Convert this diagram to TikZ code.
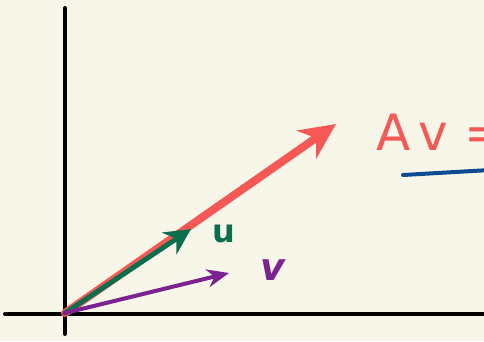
\documentclass[tikz,border=0pt]{standalone}
\usepackage{fontspec}
\setmainfont{DejaVu Sans}
\usepackage{xcolor}
\definecolor{paper}{HTML}{F8F5E9}
\definecolor{redvec}{HTML}{F65855}
\definecolor{greenvec}{HTML}{0B6E4F}
\definecolor{purplevec}{HTML}{7B2390}
\definecolor{bluestroke}{HTML}{0D4C92}
\usetikzlibrary{arrows.meta,positioning,calc}

\begin{document}
\begin{tikzpicture}[
  x=1pt, y=-1pt,
  axis/.style={line width=4pt, black, line cap=round},
  vec/.style={line cap=round, line join=round},
  lbl/.style={inner sep=0pt, anchor=center}
]
% paper and frame
\fill[paper] (0,0) rectangle (484,341);
\useasboundingbox (0,0) rectangle (484,341);
\clip (0,0) rectangle (484,341);

\coordinate (o) at (65,313);
\coordinate (xl) at (5,314);
\coordinate (xr) at (490,314);
\coordinate (yt) at (65,8);
\coordinate (yb) at (65,334);
\coordinate (Av) at (336,124);
\coordinate (u) at (191,229);
\coordinate (v) at (229,273);

% axes
\draw[axis] (xl) -- (xr);
\draw[axis] (yt) -- (yb);

% vectors
\draw[vec, redvec, line width=8pt, -{Stealth[length=36pt, width=34pt]}] (o) -- (Av);
\draw[vec, greenvec, line width=5pt, -{Stealth[length=26pt, width=26pt]}] (o) -- (u);
\draw[vec, purplevec, line width=4pt, -{Stealth[length=22pt, width=18pt]}] (o) -- (v);

% labels
\node[lbl, greenvec, font=\fontsize{32}{32}\bfseries] (ulbl) at (224,234) {u};
\node[lbl, purplevec, font=\fontsize{38}{38}\bfseries\itshape] (vlbl) at (273,270) {v};
\node[lbl, redvec, font=\fontsize{50}{50}\selectfont, anchor=west] (Avlbl) at (376,132) {A\,v =};

% underline
\coordinate (b1) at (403,175);
\coordinate (b2) at (490,170);
\draw[bluestroke, line width=4pt, line cap=round] (b1) -- (b2);
\end{tikzpicture}
\end{document}
